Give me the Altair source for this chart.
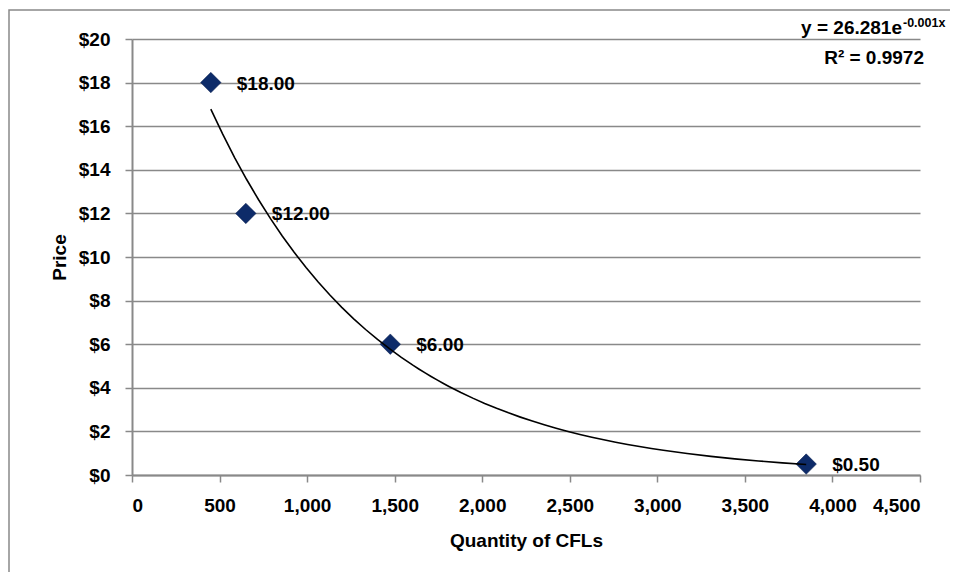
import altair as alt
import pandas as pd

# Data
quantity = [450, 650, 1475, 3850]
price = [18.0, 12.0, 6.0, 0.5]

x_ticks = [0, 500, 1000, 1500, 2000, 2500, 3000, 3500, 4000, 4500]
y_ticks = [0, 2, 4, 6, 8, 10, 12, 14, 16, 18, 20]

eq_main = "y = 26.281e"
eq_sup = "-0.001x"
eq_r2 = "R² = 0.9972"

df = pd.DataFrame({"qty": quantity, "price": price})
one = pd.DataFrame({"a": [0]})

FONT = "Liberation Sans, Arial"
FS = 19
GRAY = "#898989"
NAVY = "#0d2b69"

xs = alt.Scale(domain=[0, 4500], nice=False, zero=True)
ys = alt.Scale(domain=[0, 20], nice=False, zero=True)

x_enc = alt.X(
    "qty:Q",
    scale=xs,
    axis=alt.Axis(
        values=x_ticks,
        format=",d",
        title="Quantity of CFLs",
        grid=False,
        titleX=394,
        titleY=71,
        titleBaseline="alphabetic",
        labelPadding=14,
    ),
)
y_enc = alt.Y(
    "price:Q",
    scale=ys,
    axis=alt.Axis(
        values=y_ticks,
        format="$d",
        title="Price",
        grid=True,
        titleX=-67,
        titleY=218,
        titleAngle=-90,
        titleBaseline="alphabetic",
        labelPadding=15,
    ),
)

frame = alt.Chart(one).mark_rect(
    fill="white", fillOpacity=0, stroke=GRAY, strokeWidth=1.5
).encode(
    x=alt.value(-123), x2=alt.value(860), y=alt.value(-29), y2=alt.value(600)
)

points = alt.Chart(df).mark_point(
    shape="diamond", filled=True, size=420, color=NAVY, opacity=1,
    stroke="#0a1f4d", strokeWidth=0.5
).encode(x=x_enc, y=y_enc)

labels = alt.Chart(df).mark_text(
    align="left", baseline="middle", dx=26, dy=1,
    font=FONT, fontSize=FS, fontWeight="bold", color="black"
).encode(x="qty:Q", y="price:Q", text=alt.Text("price:Q", format="$.2f"))

trend = alt.Chart(df).transform_regression(
    "qty", "price", method="exp"
).mark_line(color="black", strokeWidth=1.6).encode(x="qty:Q", y="price:Q")

eq1 = alt.Chart(one).mark_text(
    align="right", baseline="alphabetic", font=FONT, fontSize=FS,
    fontWeight="bold", color="black"
).encode(x=alt.value(770), y=alt.value(-5), text=alt.value(eq_main))

eq1s = alt.Chart(one).mark_text(
    align="left", baseline="alphabetic", font=FONT, fontSize=12.5,
    fontWeight="bold", color="black"
).encode(x=alt.value(771), y=alt.value(-12), text=alt.value(eq_sup))

eq2 = alt.Chart(one).mark_text(
    align="right", baseline="alphabetic", font=FONT, fontSize=FS,
    fontWeight="bold", color="black"
).encode(x=alt.value(792), y=alt.value(25), text=alt.value(eq_r2))

chart = alt.layer(frame, points, labels, trend, eq1, eq1s, eq2).properties(
    width=788,
    height=436,
    autosize=alt.AutoSizeParams(type="none"),
    padding={"left": 124, "top": 31, "right": 30, "bottom": 97},
).configure_view(
    strokeWidth=0
).configure_axis(
    domainColor=GRAY,
    domainWidth=2,
    tickColor=GRAY,
    tickWidth=1.5,
    tickSize=7,
    gridColor=GRAY,
    gridWidth=1.5,
    labelFont=FONT,
    labelFontSize=FS,
    labelFontWeight="bold",
    labelColor="black",
    titleFont=FONT,
    titleFontSize=FS,
    titleFontWeight="bold",
    titleColor="black",
)

chart.save("out.html", embed_options={"renderer": "svg", "actions": False})
